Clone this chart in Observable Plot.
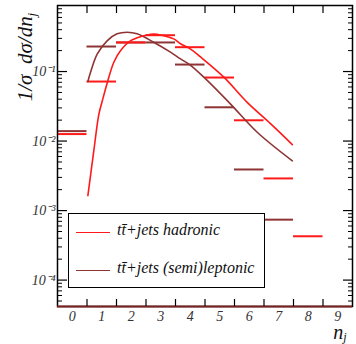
<!DOCTYPE html>
<html><head><meta charset="utf-8">
<script src="https://cdn.jsdelivr.net/npm/d3@7"></script>
<script src="https://cdn.jsdelivr.net/npm/@observablehq/plot@0.6"></script>
<style>
body{margin:0;background:#fff;}
#wrap{position:relative;width:356px;height:344px;font-family:"Times New Roman","Liberation Serif",serif;}
#legend{position:absolute;left:68px;top:213px;width:197px;height:75px;border:1.3px solid #000;background:#fff;box-sizing:border-box;font-style:italic;font-size:16px;color:#111;}
.lg{position:absolute;left:7px;width:34px;height:0;border-top:1.8px solid;}
.lt{position:absolute;left:48px;white-space:nowrap;line-height:1;}
</style></head>
<body><div id="wrap"></div>
<script>
const RED = "#ff1a1a";
const BROWN = "#8e3434";
const SERIF = "'Times New Roman', 'Liberation Serif', serif";

// histogram bins (n_j) and values
const hadBins = [0, 1, 2, 3, 4, 5, 6, 7, 8];
const hadHist = [0.0126, 0.0718, 0.262, 0.333, 0.224, 0.082, 0.0199, 0.0029, 0.000427];
const lepBins = [0, 1, 2, 3, 4, 5, 6, 7];
const lepHist = [0.0139, 0.229, 0.262, 0.262, 0.126, 0.0306, 0.0039, 0.00074];

// theory curves
const hadCurveN = [0.53, 0.73, 0.9, 1.02, 1.19, 1.41, 1.64, 1.98, 2.54, 2.77, 2.99, 3.44, 3.67, 4.0, 4.35, 5.14, 5.93, 6.72, 7.46];
const hadCurveV = [0.00164, 0.0072, 0.024, 0.038, 0.0697, 0.136, 0.20, 0.278, 0.336, 0.345, 0.336, 0.295, 0.251, 0.212, 0.162, 0.083, 0.036, 0.0178, 0.0089];
const lepCurveN = [0.53, 0.62, 0.85, 1.19, 1.52, 1.86, 2.2, 2.76, 3.33, 3.67, 4.0, 4.46, 5.36, 6.27, 7.46];
const lepCurveV = [0.072, 0.098, 0.18, 0.279, 0.349, 0.368, 0.349, 0.264, 0.19, 0.152, 0.124, 0.083, 0.0343, 0.0134, 0.0052];

// axis ticks
const xLabels = [0, 1, 2, 3, 4, 5, 6, 7, 8, 9];
const xEdges = [0.5, 1.5, 2.5, 3.5, 4.5, 5.5, 6.5, 7.5, 8.5];
const yMajor = [1e-4, 1e-3, 1e-2, 1e-1];
const yLabels = ["10\u207B\u2074", "10\u207B\u00B3", "10\u207B\u00B2", "10\u207B\u00B9"];
const yMinor = [];
for (let e = -5; e <= -1; e++) for (let m = 2; m <= 9; m++) { const v = m * Math.pow(10, e); if (v > 4.2e-5 && v < 0.89) yMinor.push(v); }

const legendEntries = ["tt\u0304+jets hadronic", "tt\u0304+jets (semi)leptonic"];

const hadRows = hadBins.map((n, i) => ({n, v: hadHist[i]}));
const lepRows = lepBins.map((n, i) => ({n, v: lepHist[i]}));
const hadCurve = hadCurveN.map((n, i) => ({n, v: hadCurveV[i]}));
const lepCurve = lepCurveN.map((n, i) => ({n, v: lepCurveV[i]}));

const yDom = [4.17e-5, 0.891];
const chart = Plot.plot({
  width: 356, height: 344,
  marginLeft: 57, marginRight: 4, marginTop: 5, marginBottom: 38,
  x: {domain: [-0.5, 9.5]},
  y: {type: "log", domain: yDom},
  style: {fontFamily: SERIF, fontStyle: "italic", fontSize: "14px", background: "#fff", overflow: "visible"},
  marks: [
    Plot.ruleY(lepRows, {y: "v", x1: d => d.n - 0.5, x2: d => d.n + 0.5, stroke: BROWN, strokeWidth: 2}),
    Plot.ruleY(hadRows, {y: "v", x1: d => d.n - 0.5, x2: d => d.n + 0.5, stroke: RED, strokeWidth: 2}),
    Plot.line(lepCurve, {x: "n", y: "v", stroke: BROWN, strokeWidth: 1.6, curve: "catmull-rom"}),
    Plot.line(hadCurve, {x: "n", y: "v", stroke: RED, strokeWidth: 1.6, curve: "catmull-rom"}),
    Plot.frame({stroke: "#000", strokeWidth: 1.5}),
    Plot.ruleY([yDom[0]], {x1: -0.5, x2: 9.5, stroke: "#7a2222", strokeWidth: 2}),
    Plot.axisX(xEdges, {anchor: "bottom", tickSize: -7, text: null, label: null, strokeWidth: 1.2}),
    Plot.axisX(xEdges, {anchor: "top", tickSize: -7, text: null, label: null, strokeWidth: 1.2}),
    Plot.axisX(xLabels, {anchor: "bottom", tickSize: 0, tickPadding: 5, label: null, tickFormat: d => String(d), fill: "#333", fontSize: 14}),
    Plot.axisY(yMajor, {anchor: "left", tickSize: -10, text: null, label: null, strokeWidth: 1.2}),
    Plot.axisY(yMajor, {anchor: "right", tickSize: -10, text: null, label: null, strokeWidth: 1.2}),
    Plot.axisY(yMinor, {anchor: "left", tickSize: -5, text: null, label: null}),
    Plot.axisY(yMinor, {anchor: "right", tickSize: -5, text: null, label: null}),
    Plot.axisY(yMajor, {anchor: "left", tickSize: 0, tickPadding: 2, label: null, tickFormat: d => yLabels[yMajor.indexOf(d)], fill: "#333", fontSize: 14})
  ]
});

const svg = d3.select(chart);
const yt = svg.append("text")
  .attr("transform", "translate(32,57) rotate(-90)")
  .attr("text-anchor", "middle")
  .attr("font-family", SERIF)
  .attr("font-style", "italic")
  .attr("font-size", 21)
  .attr("fill", "#111");
yt.append("tspan").text("1/\u03C3  d\u03C3/dn");
yt.append("tspan").attr("font-size", 13).attr("dy", 4).text("j");

const xt = svg.append("text")
  .attr("x", 340).attr("y", 339)
  .attr("font-family", SERIF)
  .attr("font-style", "italic")
  .attr("font-size", 20)
  .attr("fill", "#111");
xt.append("tspan").text("n");
xt.append("tspan").attr("font-size", 12).attr("dy", 2).text("j");

const wrap = document.getElementById("wrap");
wrap.appendChild(chart);
const lg = document.createElement("div");
lg.id = "legend";
const colors = [RED, BROWN];
const ys = [18, 56];
legendEntries.forEach((t, i) => {
  const l = document.createElement("div");
  l.className = "lg"; l.style.top = ys[i] + "px"; l.style.borderTopColor = colors[i];
  const s = document.createElement("div");
  s.className = "lt"; s.style.top = (ys[i] - 10) + "px"; s.textContent = t;
  lg.appendChild(l); lg.appendChild(s);
});
wrap.appendChild(lg);
</script>
</body></html>
